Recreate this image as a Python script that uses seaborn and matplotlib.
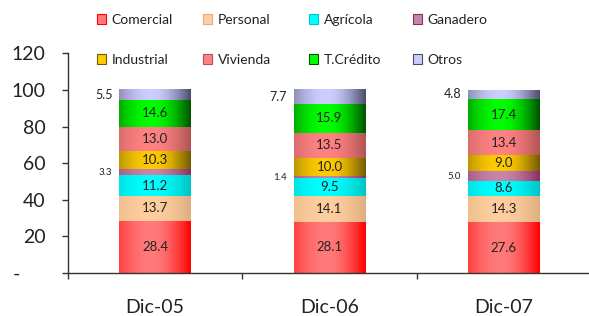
import numpy as np
import matplotlib
matplotlib.use("Agg")
import matplotlib.pyplot as plt
import seaborn as sns
from matplotlib.colors import to_rgb
from matplotlib.patches import Patch
from matplotlib.ticker import FixedLocator

# ---------------- data ----------------
periods = ["Dic-05", "Dic-06", "Dic-07"]
series = ["Comercial", "Personal", "Agrícola", "Ganadero",
          "Industrial", "Vivienda", "T.Crédito", "Otros"]
comercial = [28.4, 28.1, 27.6]
personal = [13.7, 14.1, 14.3]
agricola = [11.2, 9.5, 8.6]
ganadero = [3.3, 1.4, 5.0]
industrial = [10.3, 10.0, 9.0]
vivienda = [13.0, 13.5, 13.4]
tcredito = [14.6, 15.9, 17.4]
otros = [5.5, 7.7, 4.8]
y_ticks = [0, 20, 40, 60, 80, 100, 120]
y_tick_labels = ["-     ", "20", "40", "60", "80", "100", "120"]

values = [comercial, personal, agricola, ganadero,
          industrial, vivienda, tcredito, otros]
outside = {"Ganadero": 7, "Otros": 9}   # labels drawn left of bar (font size)

# (edge colour, centre colour) for the horizontal gradients
grad = {
    "Comercial": ("#FF0000", "#FF7A7A"),
    "Personal": ("#DDAE80", "#FFCE9E"),
    "Agrícola": ("#00C4C4", "#00FFFF"),
    "Ganadero": ("#8A2E5E", "#C884AA"),
    "Industrial": ("#735A00", "#FFCC00"),
    "Vivienda": ("#B05454", "#FF8282"),
    "T.Crédito": ("#005200", "#00FF00"),
    "Otros": ("#4C4C6A", "#CDCDFF"),
}

# ---------------- style ----------------
sns.set_theme(style="white")
plt.rcParams["font.family"] = ["Lato", "DejaVu Sans"]

W, H = 589, 316
fig = plt.figure(figsize=(W / 100, H / 100), dpi=100)
ax = fig.add_axes([68 / W, 43 / H, 523 / W, (273 - 53.4) / H])


def profile(n=200, c=0.45):
    t = np.linspace(0, 1, n)
    p = np.where(t < c, 0.35 + 0.65 * (t / c), 1 - (t - c) / (1 - c))
    return np.sin(np.clip(p, 0, 1) * np.pi / 2)


prof = profile()

bottom = np.zeros(len(periods))
bar_w = 0.41
for name, vals in zip(series, values):
    vals = np.array(vals, dtype=float)
    edge, centre = grad[name]
    n_before = len(ax.patches)
    sns.barplot(x=periods, y=vals, bottom=bottom, color=centre, width=bar_w,
                saturation=1, errorbar=None, ax=ax, linewidth=0, zorder=2)
    new = ax.patches[n_before:]
    e, c = np.array(to_rgb(edge)), np.array(to_rgb(centre))
    img = (e[None, :] + (c - e)[None, :] * prof[:, None])[None, :, :]
    for p in new:
        x0, y0 = p.get_x(), p.get_y()
        x1, y1 = x0 + p.get_width(), y0 + p.get_height()
        ax.imshow(img, extent=(x0, x1, y0, y1), aspect="auto",
                  interpolation="bilinear", zorder=2.5)
    for i, v in enumerate(vals):
        ymid = bottom[i] + v / 2
        if name in outside:
            ax.annotate(f"{v:.1f}", xy=(i - bar_w / 2, ymid),
                        xytext=(-5, 0), textcoords="offset points",
                        ha="right", va="center", fontsize=outside[name],
                        color="#222222", zorder=5)
        else:
            ax.text(i, ymid, f"{v:.1f}", ha="center", va="center",
                    fontsize=9.5, color="#222222", zorder=5)
    bottom = bottom + vals

ax.set_xlim(-0.5, 2.5)
ax.set_ylim(0, 120)
ax.set_yticks(y_ticks)
ax.set_yticklabels(y_tick_labels)
ax.set_xlabel("")
ax.set_ylabel("")

for s in ["top", "right"]:
    ax.spines[s].set_visible(False)
for s in ["left", "bottom"]:
    ax.spines[s].set_color("#333333")
    ax.spines[s].set_linewidth(1.0)

ax.tick_params(axis="y", direction="out", length=4, width=1, color="#333333",
               labelsize=14, pad=12, left=True, labelcolor="#222222")
ax.xaxis.set_minor_locator(FixedLocator([-0.5, 0.5, 1.5, 2.5]))
ax.tick_params(axis="x", which="major", length=0, labelsize=14, pad=19,
               labelcolor="#222222")
ax.tick_params(axis="x", which="minor", direction="out", length=4, width=1,
               color="#333333", bottom=True)
ax.grid(False)

# ---------------- legend (one legend per column) ----------------
col_x = [98, 204, 310, 414]
for k in range(4):
    hs = []
    for name in (series[k], series[k + 4]):
        hs.append(Patch(facecolor=grad[name][1], edgecolor=grad[name][0],
                        linewidth=0.8, label=name))
    fig.legend(handles=hs, loc="upper left",
               bbox_to_anchor=((col_x[k] - 1) / W, 1 - 14 / H),
               frameon=False, borderpad=0, borderaxespad=0,
               prop={"size": 10},
               handlelength=0.65, handleheight=0.65, handletextpad=0.4,
               labelspacing=2.0, labelcolor="#222222")

fig.savefig("out.png", dpi=100)
